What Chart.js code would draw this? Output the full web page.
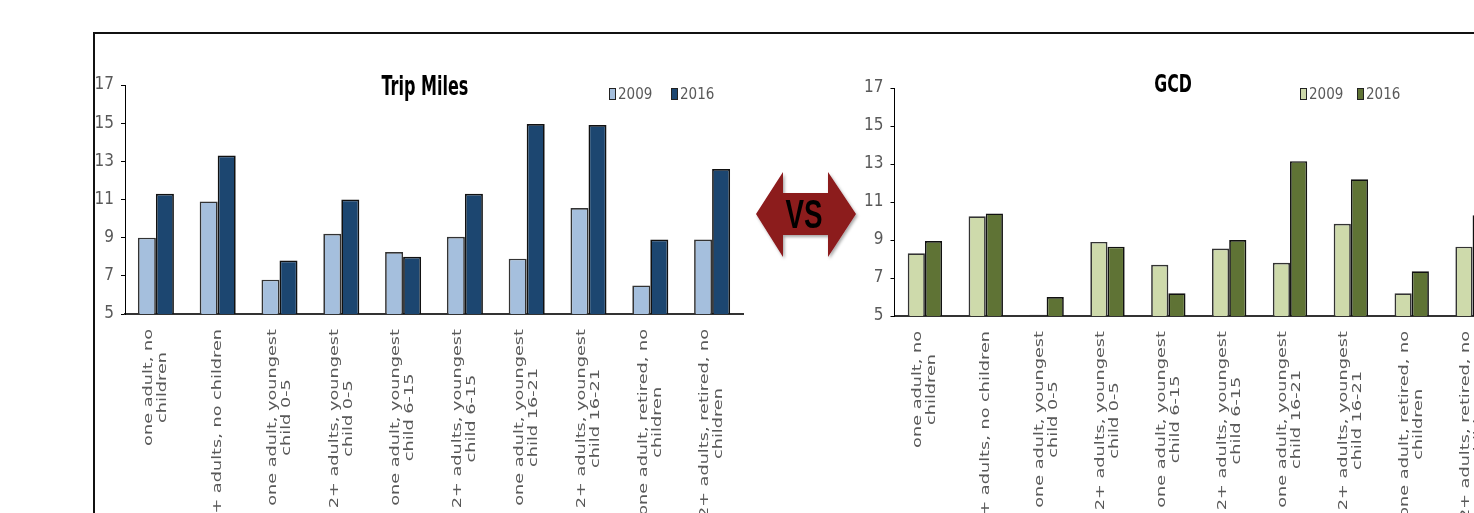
<!DOCTYPE html>
<html>
<head>
<meta charset="utf-8">
<script src="https://cdn.jsdelivr.net/npm/chart.js@4.4.1/dist/chart.umd.min.js"></script>
<style>
  html, body { margin: 0; padding: 0; background: #fff; width: 1474px; height: 513px; overflow: hidden; }
  #frame { position: absolute; left: 93px; top: 32px; width: 1500px; height: 600px; border: 2px solid #111; box-sizing: border-box; }
  #c1 { position: absolute; left: 0; top: 0; }
  #c2 { position: absolute; left: 760px; top: 0; }
  #vs { position: absolute; left: 740px; top: 160px; }
</style>
</head>
<body>
<div id="frame"></div>
<canvas id="c1" width="760" height="513"></canvas>
<canvas id="c2" width="780" height="513"></canvas>
<svg id="vs" width="130" height="110" viewBox="0 0 130 110">
  <defs>
    <filter id="shadow" x="-20%" y="-20%" width="140%" height="140%">
      <feDropShadow dx="1.5" dy="2" stdDeviation="1.5" flood-color="#000" flood-opacity="0.35"/>
    </filter>
  </defs>
  <polygon points="16,54 43,12 43,33 88,33 88,12 116,54 88,97 88,75 43,75 43,97" fill="#8c1a1e" filter="url(#shadow)"/>
  <text x="64" y="68" text-anchor="middle" font-family="'Liberation Sans Narrow', 'Arial Narrow', sans-serif" font-weight="bold" font-size="40" fill="#000" textLength="37" lengthAdjust="spacingAndGlyphs">VS</text>
</svg>

<script>
// Household types along the x axis (each entry is the wrapped label lines)
const categories = [
  ['one adult, no', 'children'],
  ['2+ adults, no children'],
  ['one adult, youngest', 'child 0-5'],
  ['2+ adults, youngest', 'child 0-5'],
  ['one adult, youngest', 'child 6-15'],
  ['2+ adults, youngest', 'child 6-15'],
  ['one adult, youngest', 'child 16-21'],
  ['2+ adults, youngest', 'child 16-21'],
  ['one adult, retired, no', 'children'],
  ['2+ adults, retired, no', 'children']
];

const seriesYears = ['2009', '2016'];

// Average trip miles per household type
const tripMiles2009 = [9.0, 10.9, 6.8, 9.2, 8.25, 9.05, 7.9, 10.55, 6.5, 8.9];
const tripMiles2016 = [11.3, 13.3, 7.8, 11.0, 8.0, 11.3, 14.95, 14.9, 8.9, 12.6];

// Great-circle distance per household type
const gcd2009 = [8.3, 10.25, 5.07, 8.9, 7.7, 8.55, 7.8, 9.85, 6.2, 8.65];
const gcd2016 = [8.95, 10.4, 6.0, 8.65, 6.2, 9.0, 13.15, 12.2, 7.35, 10.3];

// Value axis range and step
const yMin = 5;
const yMax = 17;
const yStep = 2;

const NARROW = '"Liberation Sans Narrow", "Arial Narrow", "DejaVu Sans Condensed", sans-serif';
const GREY = '#595959';

// Title and a small legend drawn on top of the plot
const headerPlugin = {
  id: 'header',
  afterDraw(chart, args, opts) {
    const ctx = chart.ctx;
    ctx.save();
    ctx.translate(opts.titleX, opts.titleY);
    ctx.scale(opts.squeeze, 1);
    ctx.font = 'bold ' + opts.titleSize + 'px ' + NARROW;
    ctx.fillStyle = '#000';
    ctx.textAlign = 'center';
    ctx.textBaseline = 'alphabetic';
    ctx.fillText(opts.title, 0, 0);
    ctx.restore();

    ctx.save();
    ctx.font = '15px ' + NARROW;
    ctx.textAlign = 'left';
    ctx.textBaseline = 'middle';
    chart.data.datasets.forEach((ds, i) => {
      const x = opts.legendX + i * opts.legendGap;
      const y = opts.legendY;
      ctx.fillStyle = ds.backgroundColor;
      ctx.fillRect(x, y - 6, 7, 12);
      ctx.strokeStyle = '#222';
      ctx.lineWidth = 1;
      ctx.strokeRect(x + 0.5, y - 5.5, 6, 11);
      ctx.fillStyle = GREY;
      ctx.fillText(ds.label, x + 9, y + 1);
    });
    ctx.restore();
  }
};

// Vertical, centred multi-line category labels under the x axis
const catLabelPlugin = {
  id: 'catLabels',
  afterDraw(chart, args, opts) {
    const ctx = chart.ctx;
    const xs = chart.scales.x;
    const top = chart.chartArea.bottom + opts.gap;
    ctx.save();
    ctx.font = '13px "DejaVu Sans", Verdana, sans-serif';
    ctx.fillStyle = GREY;
    ctx.textAlign = 'center';
    ctx.textBaseline = 'middle';
    chart.data.labels.forEach((lines, i) => {
      const x = xs.getPixelForValue(i);
      const w = Math.max(...lines.map(l => ctx.measureText(l).width));
      ctx.save();
      ctx.translate(x, top);
      ctx.rotate(-Math.PI / 2);
      ctx.scale(opts.stretch, 1);
      lines.forEach((line, j) => {
        const off = (j - (lines.length - 1) / 2) * 14;
        ctx.fillText(line, -w / 2, off);
      });
      ctx.restore();
    });
    ctx.restore();
  }
};

function makeChart(canvasId, data2009, data2016, colors, layoutPad, header, catWidth) {
  return new Chart(document.getElementById(canvasId), {
    type: 'bar',
    data: {
      labels: categories,
      datasets: [
        { label: seriesYears[0], data: data2009, backgroundColor: colors[0], borderColor: '#333', borderWidth: 1.7 },
        { label: seriesYears[1], data: data2016, backgroundColor: colors[1], borderColor: '#111', borderWidth: 1.7 }
      ]
    },
    options: {
      responsive: false,
      animation: false,
      devicePixelRatio: 1,
      layout: { padding: layoutPad },
      datasets: { bar: { categoryPercentage: catWidth, barPercentage: 1.0 } },
      plugins: {
        legend: { display: false },
        tooltip: { enabled: false },
        header: header,
        catLabels: { gap: 15, stretch: 1.36 }
      },
      scales: {
        x: {
          ticks: { display: false },
          grid: { display: false, drawTicks: false },
          border: { display: true, color: '#333', width: 2 },
          afterFit: s => { s.height = 0; }
        },
        y: {
          min: yMin,
          max: yMax,
          beginAtZero: false,
          ticks: { stepSize: yStep, color: GREY, padding: 7, font: { family: NARROW, size: 17 } },
          grid: { drawOnChartArea: false, drawTicks: true, tickLength: 4, tickColor: '#000', color: '#000' },
          border: { color: '#000', width: 1 },
          afterFit: s => { s.width = 40; }
        }
      }
    },
    plugins: [headerPlugin, catLabelPlugin]
  });
}

makeChart('c1', tripMiles2009, tripMiles2016, ['#a5bfdd', '#1c4670'],
  { left: 85, right: 17, top: 85, bottom: 199 },
  { title: 'Trip Miles', titleX: 425, titleY: 95, titleSize: 27, squeeze: 0.66, legendX: 609, legendY: 94, legendGap: 62 },
  0.583);

makeChart('c2', gcd2009, gcd2016, ['#cedaab', '#5f7335'],
  { left: 94.5, right: 37, top: 88, bottom: 197 },
  { title: 'GCD', titleX: 413, titleY: 92, titleSize: 25, squeeze: 0.7, legendX: 540, legendY: 94, legendGap: 57 },
  0.565);
</script>
</body>
</html>
